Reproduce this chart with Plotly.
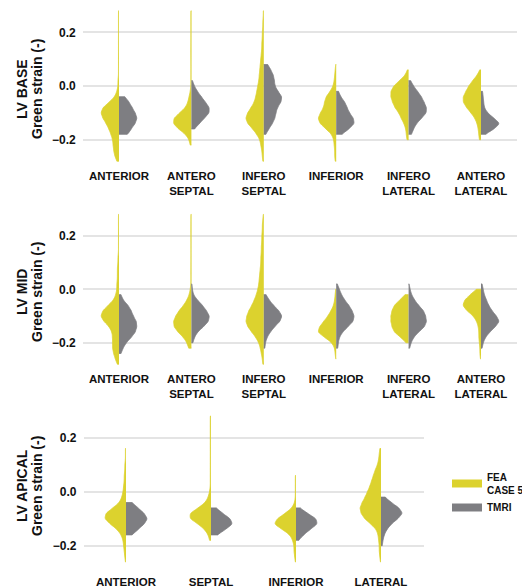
import plotly.graph_objects as go

# ---------------------------------------------------------------------------
# Regional Green strain distributions, FEA (case 5) vs tagged MRI.
# Each distribution is given as a strain histogram {strain value: count}.
# ---------------------------------------------------------------------------

BASE_REGIONS = ["ANTERIOR", "ANTERO SEPTAL", "INFERO SEPTAL",
                "INFERIOR", "INFERO LATERAL", "ANTERO LATERAL"]
BASE_LABELS = ["ANTERIOR", "ANTERO<br>SEPTAL", "INFERO<br>SEPTAL",
               "INFERIOR", "INFERO<br>LATERAL", "ANTERO<br>LATERAL"]
APICAL_REGIONS = ["ANTERIOR", "SEPTAL", "INFERIOR", "LATERAL"]
APICAL_LABELS = ["ANTERIOR", "SEPTAL", "INFERIOR", "LATERAL"]

STRAIN_TICKS = [-0.2, 0.0, 0.2]

BASE_FEA = [
    {0.28: 1, 0.26: 1, 0.24: 1, 0.22: 1, 0.20: 1, 0.18: 1, 0.16: 1, 0.14: 1,
     0.12: 1, 0.10: 1, 0.08: 1, 0.06: 1, 0.04: 1, 0.02: 2, 0.00: 2, -0.02: 4,
     -0.04: 8, -0.06: 18, -0.08: 30, -0.10: 34, -0.12: 30, -0.14: 24,
     -0.16: 19, -0.18: 15, -0.20: 12, -0.22: 11, -0.24: 10, -0.26: 8, -0.28: 4},
    {0.28: 1, 0.26: 1, 0.24: 1, 0.22: 1, 0.20: 1, 0.18: 1, 0.16: 1, 0.14: 1,
     0.12: 1, 0.10: 1, 0.08: 1, 0.06: 1, 0.04: 1, 0.02: 1, 0.00: 1, -0.02: 2,
     -0.04: 4, -0.06: 6, -0.08: 10, -0.10: 20, -0.12: 30, -0.14: 31,
     -0.16: 22, -0.18: 10, -0.20: 4, -0.22: 2},
    {0.28: 1, 0.26: 1, 0.24: 2, 0.22: 2, 0.20: 3, 0.18: 3, 0.16: 4, 0.14: 4,
     0.12: 5, 0.10: 6, 0.08: 7, 0.06: 8, 0.04: 9, 0.02: 10, 0.00: 12,
     -0.02: 14, -0.04: 16, -0.06: 19, -0.08: 25, -0.10: 32, -0.12: 36,
     -0.14: 32, -0.16: 22, -0.18: 14, -0.20: 8, -0.22: 6, -0.24: 4,
     -0.26: 3, -0.28: 2},
    {0.08: 1, 0.06: 2, 0.04: 3, 0.02: 4, 0.00: 6, -0.02: 12, -0.04: 20,
     -0.06: 23, -0.08: 25, -0.10: 31, -0.12: 36, -0.14: 32, -0.16: 20,
     -0.18: 9, -0.20: 5, -0.22: 4, -0.24: 3, -0.26: 3, -0.28: 2},
    {0.06: 2, 0.04: 6, 0.02: 16, 0.00: 26, -0.02: 31, -0.04: 31, -0.06: 28,
     -0.08: 24, -0.10: 17, -0.12: 13, -0.14: 8, -0.16: 5, -0.18: 4, -0.20: 3},
    {0.06: 2, 0.04: 7, 0.02: 15, 0.00: 22, -0.02: 27, -0.04: 32, -0.06: 32,
     -0.08: 26, -0.10: 18, -0.12: 11, -0.14: 7, -0.16: 5, -0.18: 4, -0.20: 3},
]
BASE_TMRI = [
    {-0.04: 12, -0.06: 20, -0.08: 26, -0.10: 32, -0.12: 36, -0.14: 32,
     -0.16: 24, -0.18: 18},
    {0.02: 2, 0.00: 6, -0.02: 12, -0.04: 20, -0.06: 28, -0.08: 36, -0.10: 36,
     -0.12: 26, -0.14: 16, -0.16: 6},
    {0.08: 8, 0.06: 14, 0.04: 19, 0.02: 21, 0.00: 22, -0.02: 28, -0.04: 36,
     -0.06: 34, -0.08: 27, -0.10: 24, -0.12: 22, -0.14: 17, -0.16: 10, -0.18: 4},
    {-0.02: 4, -0.04: 8, -0.06: 15, -0.08: 19, -0.10: 23, -0.12: 30,
     -0.14: 32, -0.16: 22, -0.18: 10},
    {0.02: 4, 0.00: 10, -0.02: 18, -0.04: 26, -0.06: 31, -0.08: 36,
     -0.10: 36, -0.12: 26, -0.14: 16, -0.16: 10, -0.18: 6},
    {-0.02: 3, -0.04: 4, -0.06: 5, -0.08: 6, -0.10: 12, -0.12: 24,
     -0.14: 36, -0.16: 24, -0.18: 8},
]

MID_FEA = [
    {0.28: 1, 0.26: 1, 0.24: 1, 0.22: 1, 0.20: 1, 0.18: 1, 0.16: 1, 0.14: 1,
     0.12: 2, 0.10: 2, 0.08: 3, 0.06: 3, 0.04: 3, 0.02: 4, 0.00: 4, -0.02: 6,
     -0.04: 10, -0.06: 20, -0.08: 30, -0.10: 34, -0.12: 28, -0.14: 18,
     -0.16: 13, -0.18: 12, -0.20: 12, -0.22: 12, -0.24: 10, -0.26: 7, -0.28: 3},
    {0.28: 1, 0.26: 1, 0.24: 1, 0.22: 1, 0.20: 1, 0.18: 1, 0.16: 1, 0.14: 1,
     0.12: 1, 0.10: 1, 0.08: 1, 0.06: 1, 0.04: 1, 0.02: 1, 0.00: 2, -0.02: 4,
     -0.04: 8, -0.06: 14, -0.08: 22, -0.10: 28, -0.12: 32, -0.14: 31,
     -0.16: 24, -0.18: 14, -0.20: 8, -0.22: 5},
    {0.28: 1, 0.26: 2, 0.24: 3, 0.22: 3, 0.20: 4, 0.18: 4, 0.16: 5, 0.14: 5,
     0.12: 6, 0.10: 6, 0.08: 7, 0.06: 8, 0.04: 9, 0.02: 10, 0.00: 12,
     -0.02: 15, -0.04: 19, -0.06: 24, -0.08: 30, -0.10: 34, -0.12: 36,
     -0.14: 32, -0.16: 24, -0.18: 16, -0.20: 10, -0.22: 7, -0.24: 5,
     -0.26: 3, -0.28: 2},
    {0.00: 1, -0.02: 2, -0.04: 3, -0.06: 5, -0.08: 10, -0.10: 16, -0.12: 24,
     -0.14: 32, -0.16: 36, -0.18: 22, -0.20: 8, -0.22: 3, -0.24: 2, -0.26: 1},
    {-0.02: 6, -0.04: 16, -0.06: 26, -0.08: 30, -0.10: 32, -0.12: 32,
     -0.14: 30, -0.16: 26, -0.18: 14, -0.20: 4},
    {0.00: 8, -0.02: 20, -0.04: 30, -0.06: 34, -0.08: 26, -0.10: 14,
     -0.12: 8, -0.14: 5, -0.16: 4, -0.18: 4, -0.20: 3, -0.22: 2, -0.24: 2,
     -0.26: 1},
]
MID_TMRI = [
    {-0.02: 4, -0.04: 8, -0.06: 18, -0.08: 24, -0.10: 28, -0.12: 34,
     -0.14: 35, -0.16: 32, -0.18: 24, -0.20: 14, -0.22: 8, -0.24: 4},
    {0.02: 1, 0.00: 2, -0.02: 4, -0.04: 12, -0.06: 22, -0.08: 30, -0.10: 36,
     -0.12: 34, -0.14: 24, -0.16: 12, -0.18: 6, -0.20: 3},
    {-0.02: 4, -0.04: 10, -0.06: 18, -0.08: 28, -0.10: 34, -0.12: 30,
     -0.14: 20, -0.16: 12, -0.18: 6, -0.20: 3, -0.22: 2},
    {0.02: 2, 0.00: 6, -0.02: 10, -0.04: 16, -0.06: 24, -0.08: 30, -0.10: 34,
     -0.12: 32, -0.14: 22, -0.16: 12, -0.18: 6, -0.20: 4, -0.22: 3},
    {0.02: 1, 0.00: 3, -0.02: 6, -0.04: 12, -0.06: 20, -0.08: 30, -0.10: 34,
     -0.12: 36, -0.14: 32, -0.16: 20, -0.18: 10, -0.20: 5, -0.22: 2},
    {0.02: 2, 0.00: 4, -0.02: 6, -0.04: 10, -0.06: 14, -0.08: 20, -0.10: 28,
     -0.12: 34, -0.14: 26, -0.16: 16, -0.18: 8, -0.20: 4, -0.22: 2},
]

APICAL_FEA = [
    {0.16: 1, 0.14: 1, 0.12: 1, 0.10: 2, 0.08: 2, 0.06: 3, 0.04: 3, 0.02: 4,
     0.00: 5, -0.02: 7, -0.04: 11, -0.06: 22, -0.08: 34, -0.10: 36,
     -0.12: 26, -0.14: 15, -0.16: 8, -0.18: 5, -0.20: 4, -0.22: 3,
     -0.24: 2, -0.26: 1},
    {0.28: 1, 0.26: 1, 0.24: 1, 0.22: 1, 0.20: 1, 0.18: 1, 0.16: 1, 0.14: 1,
     0.12: 1, 0.10: 1, 0.08: 1, 0.06: 1, 0.04: 1, 0.02: 1, 0.00: 2, -0.02: 4,
     -0.04: 8, -0.06: 18, -0.08: 30, -0.10: 30, -0.12: 18, -0.14: 9,
     -0.16: 4, -0.18: 2},
    {0.06: 1, 0.04: 1, 0.02: 1, 0.00: 1, -0.02: 1, -0.04: 2, -0.06: 6,
     -0.08: 16, -0.10: 28, -0.12: 33, -0.14: 20, -0.16: 9, -0.18: 5,
     -0.20: 3, -0.22: 3, -0.24: 2, -0.26: 1},
    {0.16: 2, 0.14: 3, 0.12: 4, 0.10: 6, 0.08: 10, 0.06: 13, 0.04: 16,
     0.02: 19, 0.00: 23, -0.02: 27, -0.04: 32, -0.06: 36, -0.08: 34,
     -0.10: 28, -0.12: 17, -0.14: 8, -0.16: 5, -0.18: 4, -0.20: 3,
     -0.22: 3, -0.24: 2, -0.26: 1},
]
APICAL_TMRI = [
    {-0.04: 10, -0.06: 20, -0.08: 30, -0.10: 36, -0.12: 30, -0.14: 20,
     -0.16: 10},
    {-0.06: 8, -0.08: 18, -0.10: 30, -0.12: 34, -0.14: 22, -0.16: 10},
    {-0.06: 6, -0.08: 18, -0.10: 32, -0.12: 34, -0.14: 22, -0.16: 12,
     -0.18: 4},
    {-0.02: 6, -0.04: 16, -0.06: 28, -0.08: 34, -0.10: 26, -0.12: 16,
     -0.14: 9, -0.16: 5, -0.18: 3, -0.20: 2},
]

SERIES_NAMES = ["FEA<br>CASE 5", "TMRI"]

# ---------------------------------------------------------------------------
# Styling
# ---------------------------------------------------------------------------
W, H = 522, 588
FEA_COLOR = "#DCD22E"
TMRI_COLOR = "#7E7E82"
GRID_COLOR = "#E4E4E4"
FONT = "Liberation Sans, Arial, Helvetica, sans-serif"


def expand(hist):
    """Turn a {strain: count} histogram into a flat list of samples."""
    return [v for v, n in hist.items() for _ in range(n)]


def px_x(px):
    return px / W


def px_y(px):
    return 1 - px / H


# panel: (regions, labels, fea, tmri, title line 1, x-domain px, y-domain px, title y px)
panels = [
    (BASE_REGIONS, BASE_LABELS, BASE_FEA, BASE_TMRI, "LV BASE",
     (82.8, 517.2), (2.8, 169.2), 89),
    (BASE_REGIONS, BASE_LABELS, MID_FEA, MID_TMRI, "LV MID",
     (82.8, 517.2), (206.4, 372.2), 292),
    (APICAL_REGIONS, APICAL_LABELS, APICAL_FEA, APICAL_TMRI, "LV APICAL",
     (83.5, 423.5), (408.0, 575.4), 486),
]

fig = go.Figure()
layout_axes = {}
annotations = []

for p, (regions, labels, fea, tmri, title, xdom, ydom, title_y) in enumerate(panels):
    suffix = "" if p == 0 else str(p + 1)
    xref, yref = "x" + suffix, "y" + suffix

    for series, side, color in ((fea, "negative", FEA_COLOR),
                                (tmri, "positive", TMRI_COLOR)):
        for region, hist in zip(regions, series):
            samples = expand(hist)
            fig.add_trace(go.Violin(
                x=[region] * len(samples), y=samples,
                xaxis=xref, yaxis=yref,
                side=side, spanmode="hard", bandwidth=0.011,
                scalemode="width", scalegroup=f"{title}-{side}-{region}",
                points=False, box_visible=False, meanline_visible=False,
                fillcolor=color, opacity=1,
                line=dict(color=color, width=0.8),
                showlegend=False, hoverinfo="skip",
            ))

    layout_axes["xaxis" + suffix] = dict(
        domain=[px_x(xdom[0]), px_x(xdom[1])], anchor=yref,
        type="category", categoryorder="array", categoryarray=regions,
        range=[-0.5, len(regions) - 0.5],
        tickmode="array", tickvals=regions, ticktext=labels,
        showgrid=False, zeroline=False, showline=False, ticks="",
        ticklabelstandoff=-2,
        tickfont=dict(family=FONT, size=11.5, color="#111111", weight="bold"),
        fixedrange=True,
    )
    layout_axes["yaxis" + suffix] = dict(
        domain=[px_y(ydom[1]), px_y(ydom[0])], anchor=xref,
        range=[-0.31, 0.31], tickvals=STRAIN_TICKS, tickformat=".1f",
        showgrid=True, gridcolor=GRID_COLOR, gridwidth=1.6,
        zeroline=False, showline=False, ticks="", ticklabelstandoff=6,
        tickfont=dict(family=FONT, size=12, color="#111111", weight="bold"),
        fixedrange=True,
    )

    for text, x_px in ((title, 22), ("Green strain (-)", 37)):
        annotations.append(dict(
            text=text, textangle=-90, showarrow=False,
            xref="paper", yref="paper", x=px_x(x_px), y=px_y(title_y),
            xanchor="center", yanchor="middle",
            font=dict(family=FONT, size=14, color="#111111", weight="bold"),
        ))

# legend entries for the two series
for name, color in zip(SERIES_NAMES, (FEA_COLOR, TMRI_COLOR)):
    fig.add_trace(go.Scatter(
        x=[None], y=[None], xaxis="x3", yaxis="y3", mode="lines",
        line=dict(color=color, width=8), name=name, showlegend=True,
    ))

fig.update_layout(
    width=W, height=H, template="none",
    margin=dict(l=0, r=0, t=0, b=0, autoexpand=False),
    paper_bgcolor="white", plot_bgcolor="white",
    violinmode="overlay", violingap=0.3, violingroupgap=0.3,
    showlegend=True,
    legend=dict(
        x=px_x(447), y=px_y(493), xanchor="left", yanchor="middle",
        font=dict(family=FONT, size=10, color="#111111", weight="bold"),
        bgcolor="rgba(0,0,0,0)", borderwidth=0, itemwidth=30,
        tracegroupgap=0,
    ),
    annotations=annotations,
    hovermode=False,
    **layout_axes,
)

fig.write_html("out.html")
